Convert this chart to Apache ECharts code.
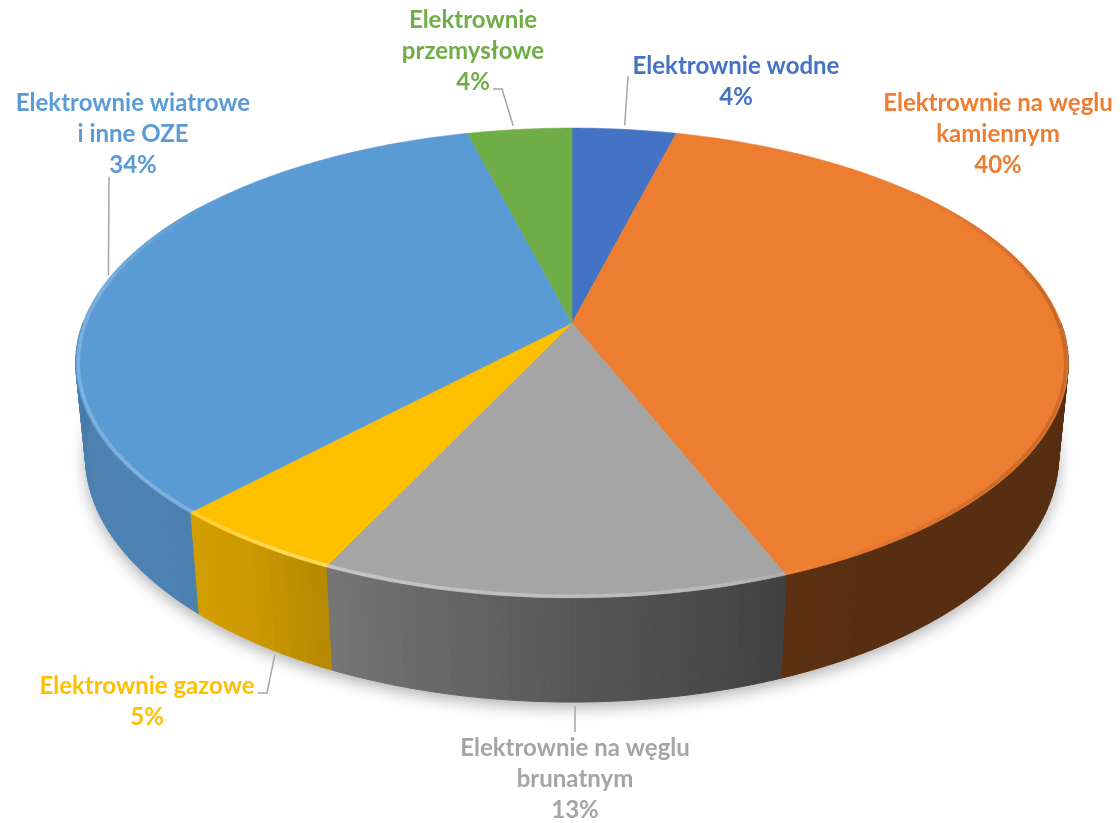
<!DOCTYPE html>
<html>
<head>
<meta charset="utf-8">
<script src="https://cdn.jsdelivr.net/npm/echarts@6/dist/echarts.min.js"></script>
<style>
  html, body { margin: 0; padding: 0; background: #ffffff; }
  #chart { width: 1120px; height: 823px; }
</style>
</head>
<body>
<div id="chart"></div>
<script>
// Udział poszczególnych typów elektrowni w produkcji energii (wykres kołowy 3D)
const categories = [
  'Elektrownie wodne',
  'Elektrownie na węglu\nkamiennym',
  'Elektrownie na węglu\nbrunatnym',
  'Elektrownie gazowe',
  'Elektrownie wiatrowe\ni inne OZE',
  'Elektrownie\nprzemysłowe'
];
const shares = [4, 40, 13, 5, 34, 4];
const colors = ['#4472C4', '#ED7D31', '#A5A5A5', '#FFC000', '#5B9BD5', '#70AD47'];

// Label blocks: centre x / top y; leader points on the label side,
// where along the slice the leader attaches, and on which rim.
const labelLayout = [
  { x: 736, y: 51,    leader: [[628, 76]],              attach: 0.50,  rim: 'top' },
  { x: 998, y: 87.5,  leader: null },
  { x: 575, y: 732.5, leader: [[575, 732]],             attach: 0.455, rim: 'bottom' },
  { x: 147, y: 670.5, leader: [[258, 693], [267, 693]], attach: 0.38,  rim: 'bottom' },
  { x: 133, y: 87.5,  leader: [[109, 177]],             attach: 0.476, rim: 'top' },
  { x: 473, y: 5,     leader: [[493, 89], [502, 89]],   attach: 0.45,  rim: 'top' }
];

// Camera for the tilted disc: screen centre of the apex, focal length,
// viewing distance (in disc radii), tilt and disc thickness.
const view = { cx: 572, cy: 323, f: 2543, D: 5.2, tilt: 27.8 * Math.PI / 180, h: 0.217 };

// theta in degrees, clockwise from the back of the disc; Y = height; r = radius
function project(theta, Y, r) {
  const t = theta * Math.PI / 180;
  const X = r * Math.sin(t), Z = r * Math.cos(t);
  const ca = Math.cos(view.tilt), sa = Math.sin(view.tilt);
  const up = Y * ca + Z * sa;
  const w = view.D + Z * ca - Y * sa;
  return [view.cx + view.f * X / w, view.cy - view.f * up / w];
}

function interp(table, x) {
  if (x <= table[0][0]) return table[0][1];
  for (let k = 1; k < table.length; k++) {
    if (x <= table[k][0]) {
      const [x0, y0] = table[k - 1], [x1, y1] = table[k];
      return y0 + (y1 - y0) * (x - x0) / (x1 - x0);
    }
  }
  return table[table.length - 1][1];
}

// brightness of the outer wall, by angle
const wallLightTable = [[90, 0.36], [150, 0.37], [158, 0.39], [180, 0.53], [205, 0.71],
  [215, 0.80], [230, 0.84], [250, 0.83], [270, 0.78]];
// rim bevel: >0 lightens towards white, <0 darkens
const bevelTable = [[50, 0], [85, -0.18], [130, -0.15], [155, 0], [165, 0.25],
  [210, 0.42], [222, 0.25], [280, 0.22], [305, 0]];

function hexToRgb(hex) {
  const n = parseInt(hex.slice(1), 16);
  return [(n >> 16) & 255, (n >> 8) & 255, n & 255];
}
function rgb(c) {
  return 'rgb(' + c.map(v => Math.max(0, Math.min(255, Math.round(v)))).join(',') + ')';
}
function shade(hex, k) {
  return rgb(hexToRgb(hex).map(v => v * k));
}
function bevel(hex, g) {
  const c = hexToRgb(hex);
  return g >= 0 ? rgb(c.map(v => v + (255 - v) * g)) : rgb(c.map(v => v * (1 + g)));
}

const total = shares.reduce((a, b) => a + b, 0);

function renderItem(params, api) {
  const i = params.dataIndex;
  const value = api.value(0);
  let before = 0;
  for (let k = 0; k < i; k++) before += shares[k];
  const a0 = before / total * 360;
  const a1 = (before + value) / total * 360;
  const h = view.h;
  const color = colors[i];
  const children = [];

  // soft shadow under the whole disc
  if (i === 0) {
    const base = [];
    for (let t = 0; t < 360; t += 2) base.push(project(t, -h, 1));
    children.push({
      type: 'polygon', z2: 1, shape: { points: base },
      style: { fill: '#ffffff', shadowBlur: 16, shadowColor: 'rgba(0,0,0,0.32)', shadowOffsetY: 5 }
    });
  }

  // top face
  const n = Math.max(2, Math.ceil(a1 - a0));
  const top = [project(0, 0, 0)];
  for (let s = 0; s <= n; s++) top.push(project(a0 + (a1 - a0) * s / n, 0, 1));
  children.push({
    type: 'polygon', z2: 10, shape: { points: top },
    style: { fill: color, stroke: color, lineWidth: 0.6 }
  });

  // visible outer wall (front half)
  const w0 = Math.max(a0, 90), w1 = Math.min(a1, 270);
  if (w1 > w0) {
    const m = Math.max(1, Math.ceil(w1 - w0));
    for (let s = 0; s < m; s++) {
      const t0 = w0 + (w1 - w0) * s / m, t1 = w0 + (w1 - w0) * (s + 1) / m;
      const c = shade(color, interp(wallLightTable, (t0 + t1) / 2));
      children.push({
        type: 'polygon', z2: 5,
        shape: { points: [project(t0, 0, 1), project(t1, 0, 1), project(t1, -h, 1), project(t0, -h, 1)] },
        style: { fill: c, stroke: c, lineWidth: 1 }
      });
    }
  }

  // bevel along the rim
  const b0 = Math.max(a0, 50), b1 = Math.min(a1, 305);
  if (b1 > b0) {
    const m = Math.max(1, Math.ceil((b1 - b0) / 1.5));
    for (let s = 0; s < m; s++) {
      const t0 = b0 + (b1 - b0) * s / m, t1 = b0 + (b1 - b0) * (s + 1) / m;
      const g = interp(bevelTable, (t0 + t1) / 2);
      if (Math.abs(g) < 0.01) continue;
      children.push({
        type: 'polyline', z2: 11,
        shape: { points: [project(t0, 0, 0.995), project(t1, 0, 0.995)] },
        style: { stroke: bevel(color, g), lineWidth: 3.5, lineCap: 'butt', opacity: 0.9 }
      });
    }
  }

  // label
  const lay = labelLayout[i];
  const pct = Math.round(value / total * 100);
  children.push({
    type: 'text', z2: 20,
    style: {
      text: categories[i] + '\n' + pct + '%',
      x: lay.x, y: lay.y,
      align: 'center', verticalAlign: 'top',
      font: 'bold 24px Lato', lineHeight: 31,
      fill: color
    }
  });

  // leader line
  if (lay.leader) {
    const t = a0 + (a1 - a0) * lay.attach;
    const p = project(t, lay.rim === 'top' ? 0 : -h, 1);
    const prev = lay.leader[lay.leader.length - 1];
    const dx = prev[0] - p[0], dy = prev[1] - p[1];
    const len = Math.sqrt(dx * dx + dy * dy) || 1;
    const gap = 4;
    const end = [p[0] + dx / len * gap, p[1] + dy / len * gap];
    children.push({
      type: 'polyline', z2: 20,
      shape: { points: lay.leader.concat([end]) },
      style: { stroke: '#A6A6A6', lineWidth: 1.5, fill: null }
    });
  }

  return { type: 'group', children: children };
}

const chart = echarts.init(document.getElementById('chart'), null, { renderer: 'canvas' });
chart.setOption({
  backgroundColor: '#ffffff',
  animation: false,
  series: [{
    type: 'custom',
    coordinateSystem: 'none',
    silent: true,
    renderItem: renderItem,
    data: shares.map((v, i) => ({ value: v, name: categories[i] }))
  }]
});
</script>
</body>
</html>
